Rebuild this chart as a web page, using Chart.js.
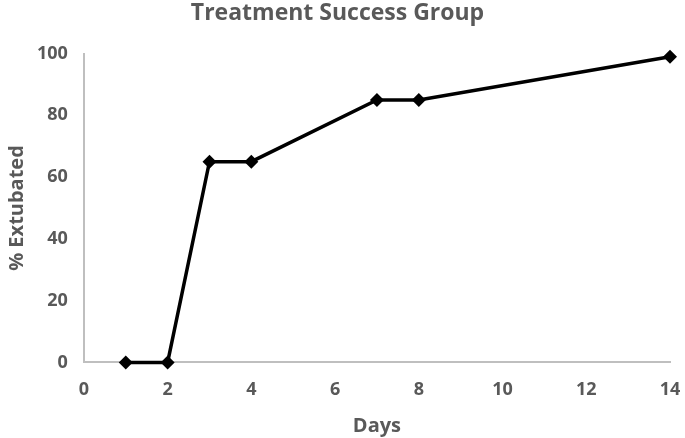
<!DOCTYPE html>
<html>
<head>
<meta charset="utf-8">
<script src="https://cdn.jsdelivr.net/npm/chart.js@4/dist/chart.umd.min.js"></script>
<style>
  html, body { margin: 0; padding: 0; background: #ffffff; }
  #wrap { width: 685px; height: 438px; position: relative; }
</style>
</head>
<body>
<div id="wrap"><canvas id="grafico"></canvas></div>
<script>
// Dados
const dias = [1, 2, 3, 4, 7, 8, 14];
const extubados = [0, 0, 65, 65, 85, 85, 99];
const ticksX = [0, 2, 4, 6, 8, 10, 12, 14];
const ticksY = [0, 20, 40, 60, 80, 100];

const cinza = '#595959';
const fonte = "'Open Sans', 'Liberation Sans', sans-serif";

new Chart(document.getElementById("grafico"), {
  type: "line",
  data: {
    datasets: [{
      label: "% Extubated",
      data: dias.map((d, i) => ({ x: d, y: extubados[i] })),
      borderColor: "#000000",
      backgroundColor: "#000000",
      borderWidth: 3.5,
      pointStyle: "rectRot",
      pointRadius: 7,
      pointBorderWidth: 0,
      tension: 0,
      clip: false
    }]
  },
  options: {
    responsive: true,
    maintainAspectRatio: false,
    animation: false,
    layout: { padding: { top: 0, right: 15, left: 5, bottom: 0 } },
    plugins: {
      legend: { display: false },
      tooltip: { enabled: false },
      title: {
        display: true,
        text: "Treatment Success Group",
        color: cinza,
        font: { family: fonte, size: 23, weight: 'bold' },
        padding: { top: 0, bottom: 26 }
      }
    },
    scales: {
      x: {
        type: 'linear',
        min: 0,
        max: 14,
        afterBuildTicks: axis => { axis.ticks = ticksX.map(v => ({ value: v })); },
        afterFit: axis => { axis.paddingRight = 0; },
        ticks: { color: cinza, font: { family: fonte, size: 18, weight: 'bold' }, padding: 17 },
        grid: { display: false, drawTicks: false },
        border: { display: true, color: '#bfbfbf', width: 2 },
        title: {
          display: true,
          text: 'Days',
          color: cinza,
          font: { family: fonte, size: 20, weight: 'bold' },
          padding: { top: -4, bottom: 0 }
        }
      },
      y: {
        min: 0,
        max: 100,
        afterBuildTicks: axis => { axis.ticks = ticksY.map(v => ({ value: v })); },
        ticks: { color: cinza, font: { family: fonte, size: 18, weight: 'bold' }, padding: 16 },
        grid: { display: false, drawTicks: false },
        border: { display: true, color: '#bfbfbf', width: 2 },
        title: {
          display: true,
          text: '% Extubated',
          color: cinza,
          font: { family: fonte, size: 20, weight: 'bold' },
          padding: { top: 0, bottom: -8 }
        }
      }
    }
  }
});
</script>
</body>
</html>
